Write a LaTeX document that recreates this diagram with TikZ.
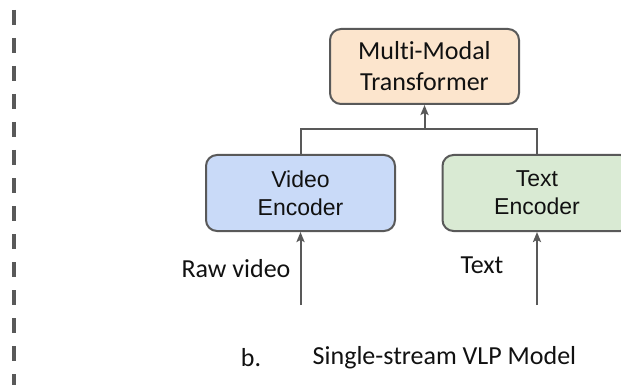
\documentclass[tikz,border=0pt]{standalone}
\usepackage{fontspec}
\setmainfont{Liberation Sans}
\newfontfamily\calib[Ligatures=NoCommon]{Carlito}
\usetikzlibrary{arrows.meta}
\definecolor{edgegray}{HTML}{595959}
\definecolor{mmfill}{HTML}{FCE5CD}
\definecolor{vidfill}{HTML}{C9DAF8}
\definecolor{txtfill}{HTML}{D9EAD3}
\definecolor{inkc}{HTML}{111111}
\tikzset{
  blockbox/.style={draw=edgegray, line width=2pt, rounded corners=11pt, minimum width=189pt, minimum height=76pt, inner sep=0pt, align=center, text=inkc},
  armfont/.style={font=\fontsize{23}{28}\selectfont},
  calfont/.style={font=\calib\fontsize{26}{32}\selectfont},
  link/.style={draw=edgegray, line width=2pt},
  arr/.style={link, -{Stealth[length=10pt,width=8pt,inset=2pt]}},
}
\begin{document}
\begin{tikzpicture}[x=1pt,y=-1pt]
\useasboundingbox (0,0) rectangle (621,385);
\fill[white] (0,0) rectangle (621,385);
% dashed separator
\draw[edgegray, line width=4pt, dash pattern=on 15pt off 13pt] (14,10) -- (14,390);
% blocks
\node[blockbox, calfont, fill=mmfill, minimum height=75pt] (mm) at (424.5,66.5) {Mult\kern0pt i-Modal\\[-1pt]Transformer};
\node[blockbox, armfont, fill=vidfill] (vid) at (300.5,193) {Video\\Encoder};
\node[blockbox, armfont, fill=txtfill] (txt) at (537,193) {Text\\Encoder};
% merge connector
\coordinate (join) at (424.5,129);
\draw[link] (vid.north) -- (vid.north |- join) -- (txt.north |- join) -- (txt.north);
\draw[arr] (join) -- (mm.south);
% inputs
\coordinate (vin) at (300.5,305);
\coordinate (tin) at (537,305);
\draw[arr] (vin) -- (vid.south);
\draw[arr] (tin) -- (txt.south);
\node[calfont, text=inkc, inner sep=0pt] (rawlbl) at (236,269) {Raw video};
\node[calfont, text=inkc, inner sep=0pt] (txtlbl) at (482,265) {Text};
% caption
\node[calfont, text=inkc, inner sep=0pt] (capb) at (251,358) {b.};
\node[calfont, text=inkc, inner sep=0pt] (cap) at (444.5,358) {Single-stream VLP Model};
\end{tikzpicture}
\end{document}
